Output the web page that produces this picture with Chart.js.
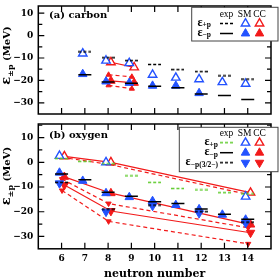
<!DOCTYPE html>
<html><head><meta charset="utf-8">
<script src="https://cdn.jsdelivr.net/npm/chart.js@4.4.1/dist/chart.umd.min.js"></script>
<style>
html,body{margin:0;padding:0;background:#fff;overflow:hidden;width:279px;height:278px;position:relative;}
canvas{position:absolute;left:0;}
#ca{top:-2px;}
#cb{top:116px;}
</style></head><body>
<canvas id="ca" width="279" height="124"></canvas>
<canvas id="cb" width="279" height="166"></canvas>
<script>
// ---------------- data ----------------
const xTickValues = [6, 7, 8, 9, 10, 11, 12, 13, 14];
const xTickLabels = ['6', '7', '8', '9', '10', '11', '12', '13', '14'];
const yTickValues = [-30, -20, -10, 0, 10];
const yTickLabels = ['\u221230', '\u221220', '\u221210', '0', '10'];
const yMinorTickValues = [-30, -25, -20, -15, -10, -5, 0, 5, 10, 15];

// (a) carbon
const carbonN = [7, 8, 9, 10, 11, 12, 13, 14];
const carbonExpPlus = [-7.3, -9.9, -11.2, -12.9, -15.2, -16.1, -18.0, -19.4];
const carbonExpMinus = [-17.5, -20.7, -21.3, -22.6, -23.3, -26.1, -26.7, -28.5];
const carbonSmPlus = [-8.0, -11.2, -12.3, -17.5, -18.8, -19.5, -20.8, -21.5];
const carbonSmMinusN = [7, 8, 9, 10, 11, 12];
const carbonSmMinus = [-17.2, -20.5, -21.1, -22.4, -22.4, -25.7];
const carbonCcN = [8, 9];
const carbonCcPlus = [-11.9, -14.2];
const carbonCcMinus = [-20.2, -21.1];
const carbonCcMinusUpper = [-17.5, -18.4];
const carbonCcMinusLower = [-22.2, -23.7];

// (b) oxygen
const oxygenN = [6, 7, 8, 9, 10, 11, 12, 13, 14];
const oxygenExpPlus = [1.5, 0.4, -0.6, -5.5, -8.1, -10.6, -11.2, -12.3, -12.8];
const oxygenExpMinus = [-4.7, -7.1, -12.1, -13.7, -16.0, -16.7, -18.9, -21.0, -23.0];
const oxygen32N = [6, 8, 10, 12, 14];
const oxygenExp32 = [-8.1, -18.9, -17.3, -20.0, -24.2];
const oxygenSmPlusN = [6, 8, 14];
const oxygenSmPlus = [2.6, 0.0, -13.9];
const oxygenSmMinus = [-4.2, -7.5, -12.5, -14.1, -15.7, -17.3, -19.0, -21.2, -23.2];
const oxygenSm32 = [-8.5, -20.0, -17.6, -20.6, -24.6];
const oxygenCcN = [6, 8, 14];
const oxygenCcPlus = [2.4, 0.0, -12.3];
const oxygenCcPlusAlt = [2.0, -0.8, -13.0];
const oxygenCcMinus = [-5.9, -12.5, -25.2];
const oxygenCc32 = [-9.2, -19.7, -28.5];
const oxygenCc32Upper = [-6.8, -16.7, -26.5];
const oxygenCc32Lower = [-11.4, -23.9, -33.0];

// ---------------- styles ----------------
const BLUE = '#2352ff', RED = '#f21a1a', GREEN = '#5fcb2e', BLACK = '#000';
const SM_SHIFT = -0.09, CC_SHIFT = 0.12, CC_ALT_SHIFT = 0.02;
const R_BIG = 4.9, R_SMALL = 3;
const TICK_FONT = {family: 'DejaVu Serif', weight: 'bold', size: 9};

function pts(ns, vals, shift) { return ns.map((n, i) => ({x: n + shift, y: vals[i]})); }
function dashImage(color) {
  const c = document.createElement('canvas'); c.width = 13; c.height = 3;
  const g = c.getContext('2d'); g.strokeStyle = color; g.lineWidth = 1.5; g.setLineDash([3, 2]);
  g.beginPath(); g.moveTo(0, 1.5); g.lineTo(13, 1.5); g.stroke();
  return c;
}
function expSolid(ns, vals) {
  return {data: pts(ns, vals, 0), showLine: false, pointStyle: 'line', pointRadius: 6.5,
    pointBorderWidth: 1.5, pointBorderColor: BLACK, pointBackgroundColor: BLACK};
}
function expDashed(ns, vals, color) {
  return {data: pts(ns, vals, 0), showLine: false, pointStyle: dashImage(color), pointRadius: 6.5};
}
function marker(ns, vals, shift, color, filled, down, r) {
  return {data: pts(ns, vals, shift), showLine: false, pointStyle: 'triangle', pointRotation: down ? 180 : 0,
    pointRadius: r, pointBorderColor: color, pointBackgroundColor: filled ? color : '#fff',
    pointBorderWidth: filled ? 1 : 1.4};
}
function ccLine(ns, vals, shift, dashed, filled, down, r) {
  return Object.assign(marker(ns, vals, shift, RED, filled, down, r),
    {showLine: true, borderColor: RED, borderWidth: 1.2, borderDash: dashed ? [4, 3] : []});
}

function tri(ctx, x, y, r, down, fill, color, lw) {
  const s = down ? -1 : 1;
  ctx.beginPath();
  ctx.moveTo(x, y - s * r);
  ctx.lineTo(x + r * 0.866, y + s * r / 2);
  ctx.lineTo(x - r * 0.866, y + s * r / 2);
  ctx.closePath();
  ctx.fillStyle = fill; ctx.fill();
  ctx.strokeStyle = color; ctx.lineWidth = lw; ctx.stroke();
}
function subText(ctx, x, y, main, sub, mainFont, subFont, subDy, align) {
  ctx.font = mainFont; const w1 = ctx.measureText(main).width;
  ctx.font = subFont; const w2 = ctx.measureText(sub).width;
  const x0 = align === 'right' ? x - w1 - w2 : (align === 'center' ? x - (w1 + w2) / 2 : x);
  ctx.textAlign = 'left';
  ctx.font = mainFont; ctx.fillText(main, x0, y);
  ctx.font = subFont; ctx.fillText(sub, x0 + w1, y + subDy);
  return x0 + w1 + w2;
}

const framePlugin = {
  id: 'frame',
  afterDatasetsDraw(chart) {
    const {ctx, chartArea: a, scales} = chart;
    const xs = scales.x, ys = scales.y;
    ctx.save();
    ctx.strokeStyle = '#000';
    ctx.lineWidth = 1.2;
    ctx.beginPath();
    xTickValues.forEach(v => {
      const p = xs.getPixelForValue(v);
      ctx.moveTo(p, a.bottom); ctx.lineTo(p, a.bottom - 6);
      ctx.moveTo(p, a.top); ctx.lineTo(p, a.top + 6);
    });
    yMinorTickValues.forEach(v => {
      if (v < ys.min || v > ys.max) return;
      const p = ys.getPixelForValue(v);
      const len = yTickValues.includes(v) ? 6 : 4;
      ctx.moveTo(a.left, p); ctx.lineTo(a.left + len, p);
      ctx.moveTo(a.right, p); ctx.lineTo(a.right - len, p);
    });
    ctx.stroke();
    ctx.lineWidth = 1.5;
    ctx.strokeRect(a.left, a.top, a.right - a.left, a.bottom - a.top);
    ctx.restore();
  }
};

function decorPlugin(cfg) {
  return {
    id: 'decor',
    afterDatasetsDraw(chart) {
      const ctx = chart.ctx, off = cfg.off;
      ctx.save();
      ctx.fillStyle = '#000';
      ctx.textBaseline = 'alphabetic';
      // panel label
      ctx.font = 'bold 10px "DejaVu Serif"'; ctx.textAlign = 'left';
      ctx.fillText(cfg.label, 49, cfg.labelY - off);
      // y title (rotated)
      ctx.save();
      ctx.translate(11, cfg.titleY - off);
      ctx.rotate(-Math.PI / 2);
      ctx.font = 'bold 13px "DejaVu Serif"'; const w1 = ctx.measureText('\u03b5').width;
      ctx.font = 'bold 8px "DejaVu Serif"'; const w2 = ctx.measureText('\u00b1p').width;
      ctx.font = 'bold 10px "DejaVu Serif"'; const w3 = ctx.measureText(' (MeV)').width;
      let x0 = -(w1 + w2 + w3) / 2;
      ctx.textAlign = 'left';
      ctx.font = 'bold 13px "DejaVu Serif"'; ctx.fillText('\u03b5', x0, -1);
      ctx.font = 'bold 8px "DejaVu Serif"'; ctx.fillText('\u00b1p', x0 + w1, 1.5);
      ctx.font = 'bold 10px "DejaVu Serif"'; ctx.fillText(' (MeV)', x0 + w1 + w2, -1);
      ctx.restore();
      // legend
      const L = cfg.legend;
      const [bx1, by1, bx2, by2] = L.box;
      ctx.fillStyle = '#fff';
      ctx.fillRect(bx1, by1 - off, bx2 - bx1, by2 - by1);
      ctx.strokeStyle = '#444'; ctx.lineWidth = 1;
      ctx.strokeRect(bx1, by1 - off, bx2 - bx1, by2 - by1);
      ctx.fillStyle = '#000';
      ctx.font = '9.5px "Liberation Serif"'; ctx.textAlign = 'center'; ctx.textBaseline = 'middle';
      ctx.fillText('exp', 226.5, L.headerY - off);
      ctx.fillText('SM', 244.5, L.headerY - off);
      ctx.fillText('CC', 259.5, L.headerY - off);
      L.rows.forEach(row => {
        const y = row.y - off;
        ctx.fillStyle = '#000'; ctx.textBaseline = 'middle';
        subText(ctx, L.labelRight, y - 0.5, '\u03b5', row.sub, 'bold 12px "Liberation Serif"', 'bold 7.5px "Liberation Serif"', 2.5, 'right');
        if (row.exp === 'solid') {
          ctx.strokeStyle = row.expColor; ctx.lineWidth = 1.5;
          ctx.beginPath(); ctx.moveTo(220, y); ctx.lineTo(233, y); ctx.stroke();
        } else {
          ctx.drawImage(dashImage(row.expColor), 220, y - 1.5);
        }
        tri(ctx, 245.5, y, R_BIG, row.down, row.open ? '#fff' : BLUE, BLUE, row.open ? 1.4 : 1);
        tri(ctx, 259.5, y, R_BIG, row.down, row.open ? '#fff' : RED, RED, row.open ? 1.4 : 1);
      });
      ctx.restore();
    }
  };
}

function options(yMax, showX, padding) {
  const xScale = {
    type: 'linear', min: 5, max: 15, display: showX,
    grid: {display: false, drawTicks: false}, border: {display: false},
    afterBuildTicks: ax => { ax.ticks = xTickValues.map(v => ({value: v})); },
    ticks: {callback: v => { const i = xTickValues.indexOf(v); return i >= 0 ? xTickLabels[i] : ''; },
      font: TICK_FONT, color: '#000', padding: 4.8, maxRotation: 0, autoSkip: false},
    title: {display: showX, text: 'neutron number', color: '#000',
      font: {family: 'DejaVu Serif', weight: 'bold', size: 11}, padding: {top: 0, bottom: 1.1}}
  };
  if (showX) xScale.afterFit = ax => { ax.height = 33.2; ax.paddingLeft = 0; ax.paddingRight = 0; };
  return {
    responsive: false, animation: false, devicePixelRatio: 1, events: [],
    layout: {padding},
    plugins: {legend: {display: false}, tooltip: {enabled: false}},
    scales: {
      x: xScale,
      y: {
        type: 'linear', min: -35, max: yMax,
        grid: {display: false, drawTicks: false}, border: {display: false},
        afterBuildTicks: ax => { ax.ticks = yTickValues.map(v => ({value: v})); },
        ticks: {callback: v => { const i = yTickValues.indexOf(v); return i >= 0 ? yTickLabels[i] : ''; },
          font: TICK_FONT, color: '#000', padding: 5, autoSkip: false},
        afterFit: ax => { ax.width = 38.3; ax.paddingTop = 0; ax.paddingBottom = 0; }
      }
    }
  };
}

// ---------------- panel (a) ----------------
const carbonDatasets = [
  expDashed(carbonN, carbonExpPlus, BLACK),
  expSolid(carbonN, carbonExpMinus),
  marker(carbonN, carbonSmPlus, SM_SHIFT, BLUE, false, false, R_BIG),
  marker(carbonSmMinusN, carbonSmMinus, SM_SHIFT, BLUE, true, false, R_BIG),
  ccLine(carbonCcN, carbonCcPlus, CC_SHIFT, false, false, false, R_BIG),
  ccLine(carbonCcN, carbonCcMinus, CC_SHIFT, false, true, false, R_BIG),
  ccLine(carbonCcN, carbonCcMinusUpper, CC_ALT_SHIFT, true, true, false, R_SMALL),
  ccLine(carbonCcN, carbonCcMinusLower, CC_ALT_SHIFT, true, true, false, R_SMALL)
];
new Chart(document.getElementById('ca'), {
  type: 'scatter',
  data: {datasets: carbonDatasets},
  options: options(13.2, false, {left: 0, right: 1, top: 0, bottom: 2}),
  plugins: [framePlugin, decorPlugin({
    off: -2, label: '(a) carbon', labelY: 17.5, titleY: 55.5,
    legend: {box: [191.7, 7.3, 278, 41], headerY: 14, labelRight: 211,
      rows: [
        {y: 23.5, sub: '+p', exp: 'dash', expColor: BLACK, open: true, down: false},
        {y: 33.5, sub: '\u2212p', exp: 'solid', expColor: BLACK, open: false, down: false}
      ]}
  })]
});

// ---------------- panel (b) ----------------
const oxygenDatasets = [
  expDashed(oxygenN, oxygenExpPlus, GREEN),
  expSolid(oxygenN, oxygenExpMinus),
  expDashed(oxygen32N, oxygenExp32, BLACK),
  marker(oxygenSmPlusN, oxygenSmPlus, SM_SHIFT, BLUE, false, false, R_BIG),
  marker(oxygenN, oxygenSmMinus, SM_SHIFT, BLUE, true, false, R_BIG),
  marker(oxygen32N, oxygenSm32, SM_SHIFT, BLUE, true, true, R_BIG),
  ccLine(oxygenCcN, oxygenCcPlus, CC_SHIFT, false, false, false, R_BIG),
  Object.assign(ccLine(oxygenCcN, oxygenCcPlusAlt, CC_ALT_SHIFT, true, false, false, R_SMALL), {pointRadius: 0}),
  ccLine(oxygenCcN, oxygenCcMinus, CC_SHIFT, false, true, false, R_BIG),
  ccLine(oxygenCcN, oxygenCc32, CC_SHIFT, false, true, true, R_BIG),
  ccLine(oxygenCcN, oxygenCc32Upper, CC_ALT_SHIFT, true, true, true, R_SMALL),
  ccLine(oxygenCcN, oxygenCc32Lower, CC_ALT_SHIFT, true, true, true, R_SMALL)
];
new Chart(document.getElementById('cb'), {
  type: 'scatter',
  data: {datasets: oxygenDatasets},
  options: options(15.5, true, {left: 0, right: 1, top: 4, bottom: 0}),
  plugins: [framePlugin, decorPlugin({
    off: 116, label: '(b) oxygen', labelY: 137.5, titleY: 176,
    legend: {box: [179.3, 127.3, 278, 171.7], headerY: 133.3, labelRight: 218,
      rows: [
        {y: 142.7, sub: '+p', exp: 'dash', expColor: GREEN, open: true, down: false},
        {y: 152.7, sub: '\u2212p', exp: 'solid', expColor: BLACK, open: false, down: false},
        {y: 162.7, sub: '\u2212p(3/2\u2212)', exp: 'dash', expColor: BLACK, open: false, down: true}
      ]}
  })]
});
</script>
</body></html>
